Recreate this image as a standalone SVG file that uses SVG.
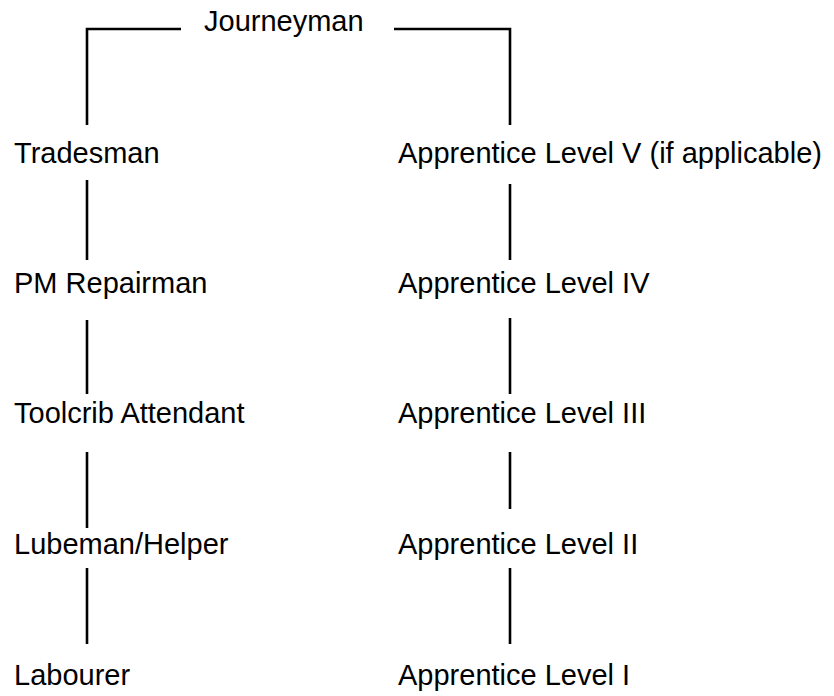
<svg xmlns="http://www.w3.org/2000/svg" width="834" height="696" viewBox="0 0 834 696">
<style>
.t{font-family:"Liberation Sans",Arial,sans-serif;font-size:29px;fill:#000}
.c{stroke:#000;stroke-width:2.6;fill:none}
</style>
<rect width="834" height="696" fill="#fff"/>
<g id="connectors">
<path class="c" d="M87,125 V29 H181"/>
<path class="c" d="M394,29 H510 V125"/>
<path class="c" d="M87,180 V260"/>
<path class="c" d="M510,184 V260"/>
<path class="c" d="M87,320 V394"/>
<path class="c" d="M510,318 V394"/>
<path class="c" d="M87,452 V528"/>
<path class="c" d="M510,452 V509"/>
<path class="c" d="M87,568 V644"/>
<path class="c" d="M510,568 V644"/>
</g>
<g id="journeyman"><text class="t" x="204" y="31">Journeyman</text></g>
<g id="tradesman"><text class="t" x="14" y="163">Tradesman</text></g>
<g id="pm-repairman"><text class="t" x="14" y="293">PM Repairman</text></g>
<g id="toolcrib-attendant"><text class="t" x="14" y="423">Toolcrib Attendant</text></g>
<g id="lubeman-helper"><text class="t" x="14" y="554">Lubeman/Helper</text></g>
<g id="labourer"><text class="t" x="14" y="685">Labourer</text></g>
<g id="apprentice-5"><text class="t" x="398" y="163">Apprentice Level V (if applicable)</text></g>
<g id="apprentice-4"><text class="t" x="398" y="293">Apprentice Level IV</text></g>
<g id="apprentice-3"><text class="t" x="398" y="423">Apprentice Level III</text></g>
<g id="apprentice-2"><text class="t" x="398" y="554">Apprentice Level II</text></g>
<g id="apprentice-1"><text class="t" x="398" y="685">Apprentice Level I</text></g>
</svg>
